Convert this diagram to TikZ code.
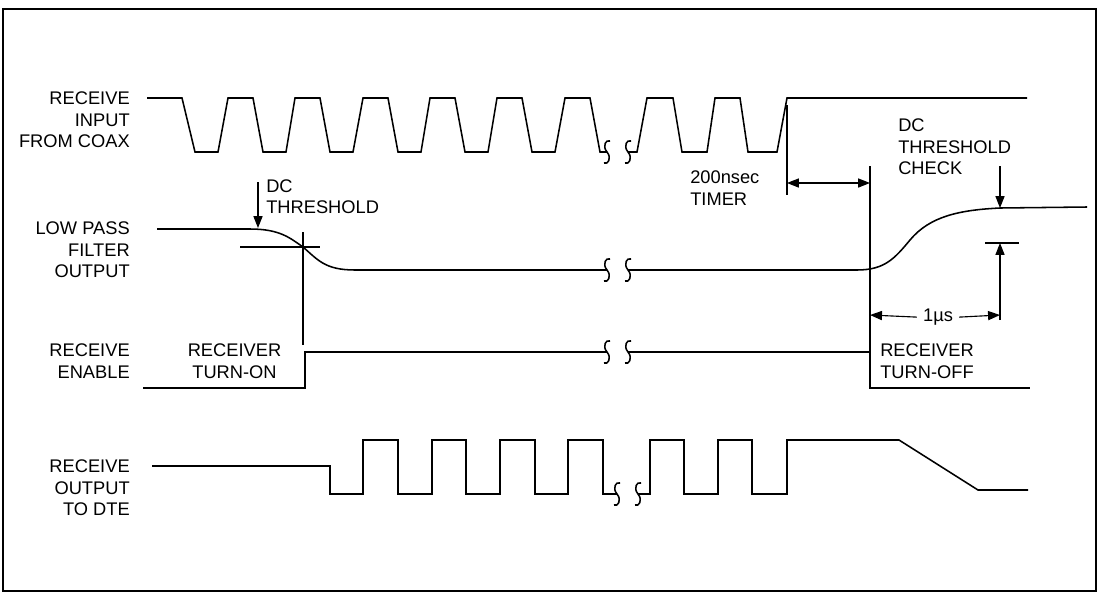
\documentclass[tikz,border=0pt]{standalone}
\usepackage{fontspec}
\setmainfont{Liberation Sans}
\usetikzlibrary{arrows.meta}

\begin{document}
\begin{tikzpicture}[
    x=0.025cm, y=-0.025cm,
    sig/.style={line width=1.1pt, line join=miter},
    guide/.style={line width=0.8pt},
    arr/.style={guide, -{Triangle[length=8.5pt, width=6.5pt]}},
    dimarr/.style={guide, {Triangle[length=8.5pt, width=6.5pt]}-{Triangle[length=8.5pt, width=6.5pt]}},
    lbl/.style={font=\fontsize{13}{15.3}\selectfont, inner sep=0pt},
    brkmark/.pic={\draw[sig] (3,-11) .. controls (-1,-13) and (-5,-6) .. (0,0)
                        .. controls (5,6) and (1,13) .. (-3,11);}
]
    \useasboundingbox (0,0) rectangle (1100,594);
    \draw[line width=1.4pt] (3,9) rectangle (1096,591);

    % --- Signal names ---
    \node[lbl, anchor=east, align=right] (nin)  at (130,120)   {RECEIVE\\INPUT\\FROM COAX};
    \node[lbl, anchor=east, align=right] (nlpf) at (130,250)   {LOW PASS\\FILTER\\OUTPUT};
    \node[lbl, anchor=east, align=right] (nen)  at (130,361)   {RECEIVE\\ENABLE};
    \node[lbl, anchor=east, align=right] (nout) at (130,488)   {RECEIVE\\OUTPUT\\TO DTE};

    % --- Receive input from coax ---
    \draw[sig] (147,98) -- (182,98) -- (195,152) -- (218,152) -- (228,98)
        -- (253,98) -- (263,152) -- (286,152) -- (295,98) -- (320,98)
        -- (330,152) -- (353,152) -- (363,98) -- (388,98) -- (398,152)
        -- (421,152) -- (430,98) -- (455,98) -- (465,152) -- (488,152)
        -- (497,98) -- (522,98) -- (532,152) -- (555,152) -- (565,98)
        -- (590,98) -- (600,152) -- (607,152);
    \pic at (607,152) {brkmark};
    \pic at (628,152) {brkmark};
    \draw[sig] (628,152) -- (637,152) -- (647,98) -- (673,98) -- (682,152)
        -- (707,152) -- (715,98) -- (740,98) -- (748,152) -- (777,152)
        -- (787,98) -- (1027,98);

    % --- Low pass filter output ---
    \coordinate (ton) at (303,247);
    \draw[sig] (157,229) -- (250,229) .. controls (280,229) and (290,238) .. (ton)
        .. controls (318,260) and (325,270) .. (355,270) -- (607,270);
    \pic at (607,270) {brkmark};
    \pic at (628,270) {brkmark};
    \draw[sig] (628,270) -- (857,270) .. controls (885,270) and (895,258) .. (910,240)
        .. controls (930,216) and (960,210) .. (1000,208) -- (1087,207);

    % --- Receive enable ---
    \draw[sig] (143,388) -- (305,388) -- (305,352) -- (607,352);
    \pic at (607,352) {brkmark};
    \pic at (628,352) {brkmark};
    \draw[sig] (628,352) -- (870,352) -- (870,388) -- (1030,388);

    % --- Receive output to DTE ---
    \draw[sig] (152,466) -- (330,466) -- (330,494) -- (363,494) -- (363,440)
        -- (398,440) -- (398,494) -- (432,494) -- (432,440) -- (466,440)
        -- (466,494) -- (500,494) -- (500,440) -- (535,440) -- (535,494)
        -- (568,494) -- (568,440) -- (603,440) -- (603,494) -- (617,494);
    \pic at (617,494) {brkmark};
    \pic at (638,494) {brkmark};
    \draw[sig] (638,494) -- (650,494) -- (650,440) -- (684,440) -- (684,494)
        -- (718,494) -- (718,440) -- (752,440) -- (752,494) -- (787,494)
        -- (787,440) -- (899,440) -- (978,490) -- (1028,490);

    % --- Turn-on threshold ---
    \node[lbl, anchor=west, align=left] (dcth) at (266,196.5) {DC\\THRESHOLD};
    \draw[arr] (258,182) -- (258,228);
    \draw[guide] (240,247) -- (320,247);
    \draw[guide] (303,232) -- (303,345);
    \node[lbl, align=center] (ron) at (234.5,361) {RECEIVER\\TURN-ON};

    % --- 200nsec timer ---
    \coordinate (tend) at (787,105);
    \coordinate (toff) at (870,166);
    \draw[guide] (tend) -- (787,195);
    \draw[guide] (toff) -- (870,352);
    \draw[dimarr] (787,183) -- (870,183);
    \node[lbl, anchor=west, align=left] (timer) at (690,188) {200nsec\\TIMER};
    \node[lbl, anchor=west, align=left] (roff) at (880,361) {RECEIVER\\TURN-OFF};

    % --- DC threshold check ---
    \node[lbl, anchor=west, align=left] (dcchk) at (898,147) {DC\\THRESHOLD\\CHECK};
    \draw[arr] (1000,166) -- (1000,208);
    \draw[guide] (985,243) -- (1019,243);
    \draw[arr] (1000,320) -- (1000,243);
    \node[lbl, anchor=base] (tus) at (938,321.5) {1µs};
    \draw[arr] (tus.west) ++(-6,0) coordinate (usl) -- (870,315);
    \draw[arr] (tus.east) ++(6,0) coordinate (usr) -- (1000,315);
\end{tikzpicture}
\end{document}
